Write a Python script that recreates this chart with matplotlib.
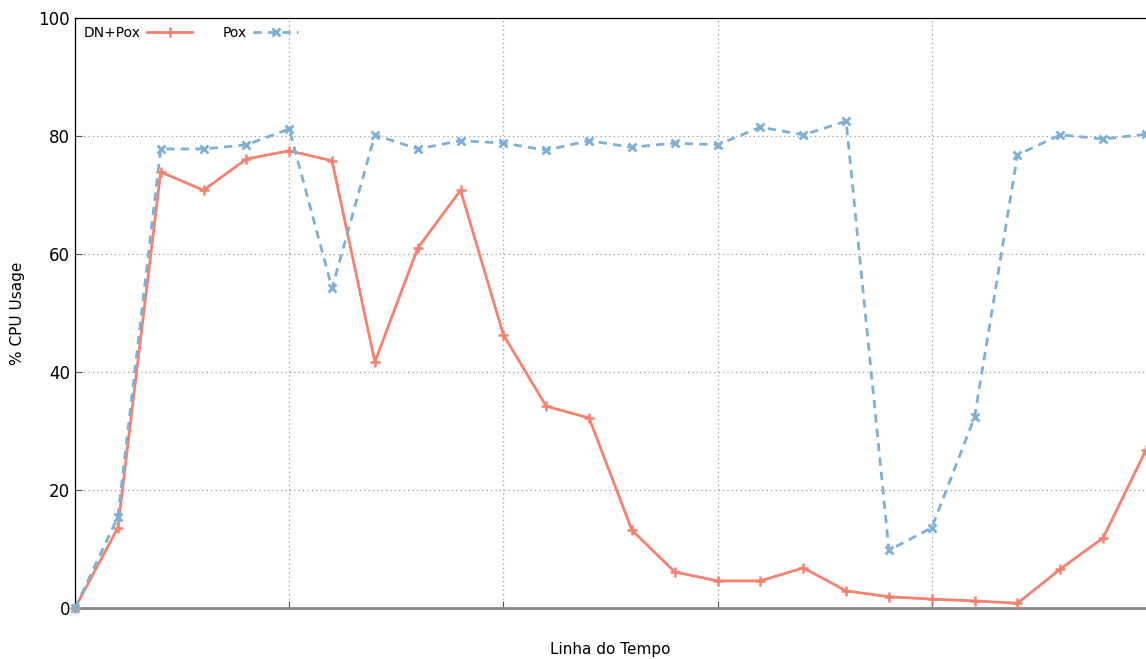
import matplotlib
matplotlib.use("Agg")
import matplotlib.pyplot as plt

# ---------------------------------------------------------------------------
# Data
# ---------------------------------------------------------------------------
timeline = list(range(26))

dn_pox = [0.0, 13.6, 73.9, 70.8, 76.1, 77.5, 75.8, 41.7, 61.0, 70.8,
          46.3, 34.2, 32.2, 13.2, 6.1, 4.6, 4.6, 6.8, 2.9, 1.9,
          1.5, 1.2, 0.8, 6.6, 11.9, 26.8]

pox = [0.0, 15.4, 77.8, 77.8, 78.5, 81.2, 54.2, 80.2, 77.8, 79.2,
       78.8, 77.6, 79.2, 78.1, 78.8, 78.5, 81.5, 80.2, 82.5, 9.8,
       13.6, 32.4, 76.8, 80.2, 79.5, 80.3]

y_ticks = [0, 20, 40, 60, 80, 100]
x_grid = [5, 10, 15, 20]

RED = "#f8806f"
BLUE = "#7eb0d5"

# ---------------------------------------------------------------------------
# Plot
# ---------------------------------------------------------------------------
fig = plt.figure(figsize=(11.46, 6.59), dpi=100)
ax = fig.add_axes([75 / 1146, 51 / 659, 1 - 75 / 1146, 590 / 659])

ax.plot(timeline, dn_pox, color=RED, linewidth=2, marker="+",
        markersize=7, markeredgewidth=1.8, label="DN+Pox", clip_on=False, zorder=3)
ax.plot(timeline, pox, color=BLUE, linewidth=2, linestyle=(0, (3, 2.2)),
        marker="x", markersize=6, markeredgewidth=2, label="Pox", clip_on=False, zorder=3)

ax.set_xlim(0, 25)
ax.set_ylim(0, 100)
ax.set_yticks(y_ticks)
ax.set_xticks(x_grid)
ax.set_xticklabels([])
ax.tick_params(axis="both", direction="in", length=5, labelsize=12, color="#555555")

ax.grid(True, linestyle=(0, (1, 2.5)), color="#999999", linewidth=0.9)
ax.set_axisbelow(True)

ax.spines["right"].set_visible(False)
ax.spines["top"].set_linewidth(0.9)
ax.spines["left"].set_linewidth(0.9)
ax.spines["bottom"].set_color("#888888")
ax.spines["bottom"].set_linewidth(2)

ax.set_ylabel("% CPU Usage", fontsize=11, labelpad=10)
ax.set_xlabel("Linha do Tempo", fontsize=11, labelpad=21)

ax.legend(loc="upper left", ncol=2, frameon=False, markerfirst=False,
          fontsize=10, handlelength=3.2, columnspacing=2.2,
          handletextpad=0.5, borderaxespad=0.25, borderpad=0.35)

fig.savefig("out.png", dpi=100)
